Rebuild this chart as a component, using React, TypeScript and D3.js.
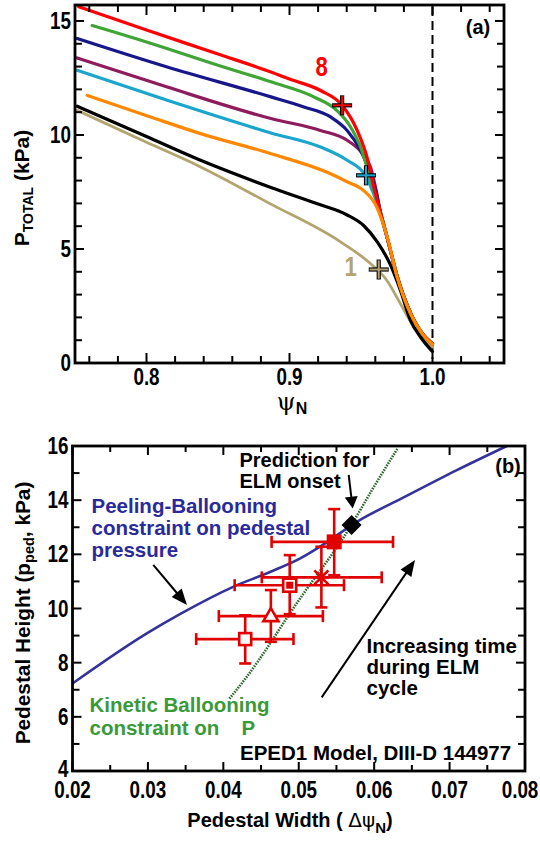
import React from 'react';
import * as d3 from 'd3';

const FONT = "'Liberation Sans', Arial, Helvetica, sans-serif";
const NARROW_SCALE = 0.82;

// ---------------- Panel (a) data ----------------
const psiMajor = [0.8, 0.9, 1.0];
const psiMajorLabels = ['0.8', '0.9', '1.0'];
const pMajor = [0, 5, 10, 15];
const pMajorLabels = ['0', '5', '10', '15'];

const curve1 = [[0.7515, 11.08], [0.80, 9.68], [0.8378, 8.6], [0.886, 7.0], [0.9357, 5.31], [0.9566, 4.36], [0.968, 3.63], [0.9776, 2.6], [0.987, 1.58], [0.9945, 1.0], [1.0, 0.7]];
const curve2 = [[0.7515, 11.26], [0.80, 9.93], [0.8378, 8.89], [0.887, 7.7], [0.92, 6.97], [0.94, 6.5], [0.952, 6.02], [0.9615, 5.3], [0.9706, 4.3], [0.9776, 3.18], [0.9846, 1.87], [0.9916, 1.14], [1.0, 0.5]];
const curve3 = [[0.7585, 11.74], [0.8028, 10.79], [0.8378, 10.06], [0.887, 9.18], [0.9287, 8.3], [0.9403, 7.95], [0.9517, 7.57], [0.961, 6.84], [0.9683, 5.53], [0.9753, 3.77], [0.9846, 2.17], [0.9928, 1.29], [1.0, 0.82]];
const curve4 = [[0.7515, 12.84], [0.8145, 11.52], [0.887, 10.09], [0.9217, 9.47], [0.9403, 8.89], [0.953, 8.23], [0.9588, 7.43], [0.9636, 6.6], [0.9683, 5.5], [0.9753, 3.8], [0.9846, 2.2], [0.9928, 1.3], [1.0, 0.85]];
const curve5 = [[0.7515, 13.38], [0.8145, 12.1], [0.887, 10.72], [0.9217, 10.2], [0.9403, 9.77], [0.9508, 9.2], [0.9566, 8.6], [0.9605, 7.6], [0.9636, 6.6], [0.9683, 5.5], [0.9753, 3.8], [0.9846, 2.2], [0.9928, 1.3], [1.0, 0.85]];
const curve6 = [[0.7515, 14.23], [0.8145, 12.98], [0.887, 11.67], [0.91, 11.23], [0.9287, 10.79], [0.9403, 10.2], [0.9497, 9.33], [0.9566, 8.32], [0.9605, 7.5], [0.9636, 6.6], [0.9683, 5.5], [0.9753, 3.8], [0.9846, 2.2], [0.9928, 1.3], [1.0, 0.85]];
const curve7 = [[0.762, 14.8], [0.80, 14.08], [0.85, 13.06], [0.887, 12.33], [0.917, 11.67], [0.933, 11.08], [0.9427, 10.35], [0.9497, 9.47], [0.9555, 8.3], [0.9598, 7.4], [0.9636, 6.6], [0.9683, 5.5], [0.9753, 3.8], [0.9846, 2.2], [0.9928, 1.3], [1.0, 0.85]];
const curve8 = [[0.7526, 15.62], [0.80, 14.6], [0.85, 13.55], [0.887, 12.76], [0.90, 12.45], [0.9217, 11.95], [0.9368, 11.3], [0.9473, 10.2], [0.9543, 9.0], [0.959, 7.7], [0.9636, 6.6], [0.9683, 5.5], [0.9753, 3.8], [0.9846, 2.2], [0.9928, 1.3], [1.0, 0.85]];

const curveOrder = [curve1, curve2, curve4, curve5, curve6, curve7, curve8, curve3];
const curveOrderColors = ['#b3a46f', '#000000', '#1aa6cc', '#8e1b5b', '#17168a', '#3fa535', '#ff0000', '#ff8800'];

const crossPsi = [0.9368, 0.9535, 0.9624];
const crossP = [11.3, 8.23, 4.1];
const crossColors = ['#ff0000', '#1aa6cc', '#b3a46f'];

const curveLabels = ['8', '1'];
const curveLabelPsi = [0.9225, 0.9427];
const curveLabelP = [13.0, 4.2];
const curveLabelColors = ['#ff0000', '#b3a46f'];

// ---------------- Panel (b) data ----------------
const wMajor = [0.02, 0.03, 0.04, 0.05, 0.06, 0.07, 0.08];
const wMajorLabels = ['0.02', '0.03', '0.04', '0.05', '0.06', '0.07', '0.08'];
const hMajor = [4, 6, 8, 10, 12, 14, 16];
const hMajorLabels = ['4', '6', '8', '10', '12', '14', '16'];

const pbW = [0.020, 0.0298, 0.0343, 0.0413, 0.0462, 0.0502, 0.0532, 0.0577, 0.0639, 0.0709, 0.0776];
const pbP = [7.23, 9.07, 9.8, 10.8, 11.35, 11.85, 12.35, 13.2, 14.1, 15.1, 16.0];

const kbW = [0.0408, 0.0429, 0.0500, 0.0568, 0.0597, 0.0631];
const kbP = [6.67, 7.4, 10.3, 13.0, 14.37, 15.91];

const predW = [0.0570];
const predP = [13.08];

const ptW = [0.0547, 0.0530, 0.0488, 0.0463, 0.0429];
const ptP = [12.46, 11.15, 10.86, 9.72, 8.87];
const ptWLo = [0.0464, 0.0451, 0.0415, 0.0394, 0.0364];
const ptWHi = [0.0625, 0.0610, 0.0560, 0.0532, 0.0493];
const ptPLo = [11.23, 10.04, 9.79, 8.77, 7.97];
const ptPHi = [13.67, 12.28, 11.97, 10.68, 9.75];
const ptSym = ['filledSquare', 'asterisk', 'dotSquare', 'triangle', 'openSquare'];

// arrows (data coordinates): from -> tip
const arrowFromW = [0.03071, 0.05662, 0.05304];
const arrowFromP = [11.61, 14.93, 6.72];
const arrowToW = [0.03518, 0.05715, 0.06541];
const arrowToP = [10.13, 13.69, 11.79];

const RED = '#e00000';

function Arrow({ x1, y1, x2, y2, len = 15, half = 6.5 }) {
  const ang = Math.atan2(y2 - y1, x2 - x1);
  const bx = x2 - len * Math.cos(ang);
  const by = y2 - len * Math.sin(ang);
  const px = -Math.sin(ang) * half;
  const py = Math.cos(ang) * half;
  return (
    <g>
      <line x1={x1} y1={y1} x2={bx + 2 * Math.cos(ang)} y2={by + 2 * Math.sin(ang)} stroke="#000" strokeWidth={2} />
      <path d={`M${x2},${y2} L${bx + px},${by + py} L${bx - px},${by - py} Z`} fill="#000" />
    </g>
  );
}

function NText({ x, y, anchor = 'middle', size = 23, fill = '#000', children }) {
  return (
    <text transform={`translate(${x},${y}) scale(${NARROW_SCALE},1)`} textAnchor={anchor} fontWeight="bold" fontSize={size} fill={fill}>{children}</text>
  );
}

export default function App() {
  const xA = d3.scaleLinear().domain([0.75, 1.05]).range([75, 504]);
  const yA = d3.scaleLinear().domain([0, 15.7]).range([363, 5]);
  const xB = d3.scaleLinear().domain([0.02, 0.08]).range([72.5, 525]);
  const yB = d3.scaleLinear().domain([4, 16]).range([771, 446]);

  const lineA = d3.line<number[]>().x(d => xA(d[0])).y(d => yA(d[1])).curve(d3.curveMonotoneX);
  const lineB = d3.line<number[]>().x(d => xB(d[0])).y(d => yB(d[1])).curve(d3.curveMonotoneX);

  const [ax0, ax1] = xA.range();
  const [ay0, ay1] = yA.range();
  const [bx0, bx1] = xB.range();
  const [by0, by1] = yB.range();

  const psiMinor = d3.range(0.76, 1.041, 0.02);
  const pMinor = d3.range(0, 15.5, 1);
  const wMinor = d3.range(0.02, 0.0801, 0.005);
  const hMinor = d3.range(4, 16.5, 1);

  const isMajor = (v, arr) => arr.some(a => Math.abs(a - v) < 1e-6);

  const pbData = pbW.map((w, i) => [w, pbP[i]]);
  const kbData = kbW.map((w, i) => [w, kbP[i]]);

  return (
    <svg width={540} height={844} style={{ position: 'absolute', left: 0, top: 0, background: '#fff' }} fontFamily={FONT}>
      <rect x={0} y={0} width={540} height={844} fill="#fff" />

      {/* ================= Panel (a) ================= */}
      <line x1={xA(1.0)} x2={xA(1.0)} y1={ay1 + 2} y2={ay0 - 4} stroke="#000" strokeWidth={2} strokeDasharray="9,5" />

      {curveOrder.map((c, i) => (
        <path key={'c' + i} d={lineA(c) || ''} fill="none" stroke={curveOrderColors[i]} strokeWidth={i === 0 ? 2.8 : 3.2} strokeLinejoin="round" strokeLinecap="round" />
      ))}

      {crossPsi.map((v, i) => {
        const cx = xA(v), cy = yA(crossP[i]);
        const s = 10;
        return (
          <g key={'x' + i}>
            <line x1={cx - s} x2={cx + s} y1={cy} y2={cy} stroke="#000" strokeWidth={4.2} />
            <line x1={cx} x2={cx} y1={cy - s} y2={cy + s} stroke="#000" strokeWidth={4.2} />
            <line x1={cx - s + 0.8} x2={cx + s - 0.8} y1={cy} y2={cy} stroke={crossColors[i]} strokeWidth={2} />
            <line x1={cx} x2={cx} y1={cy - s + 0.8} y2={cy + s - 0.8} stroke={crossColors[i]} strokeWidth={2} />
          </g>
        );
      })}

      {curveLabels.map((t, i) => (
        <NText key={'cl' + i} x={xA(curveLabelPsi[i])} y={yA(curveLabelP[i]) + 9} size={27} fill={curveLabelColors[i]}>{t}</NText>
      ))}

      <rect x={ax0} y={ay1} width={ax1 - ax0} height={ay0 - ay1} fill="none" stroke="#000" strokeWidth={2.8} />
      {psiMinor.map((v, i) => {
        const L = isMajor(v, psiMajor) ? 10 : 7;
        return (
          <g key={'pt' + i}>
            <line x1={xA(v)} x2={xA(v)} y1={ay0} y2={ay0 - L} stroke="#000" strokeWidth={2} />
            <line x1={xA(v)} x2={xA(v)} y1={ay1} y2={ay1 + L} stroke="#000" strokeWidth={2} />
          </g>
        );
      })}
      {pMinor.map((v, i) => {
        const L = isMajor(v, pMajor) ? 9 : 7;
        return (
          <g key={'yt' + i}>
            <line x1={ax0} x2={ax0 + L} y1={yA(v)} y2={yA(v)} stroke="#000" strokeWidth={2} />
            <line x1={ax1} x2={ax1 - L} y1={yA(v)} y2={yA(v)} stroke="#000" strokeWidth={2} />
          </g>
        );
      })}
      {psiMajor.map((v, i) => (
        <NText key={'pl' + i} x={xA(v)} y={385}>{psiMajorLabels[i]}</NText>
      ))}
      {pMajor.map((v, i) => (
        <NText key={'yl' + i} x={71} y={yA(v) + 8} anchor="end">{pMajorLabels[i]}</NText>
      ))}
      <text x={478} y={34} textAnchor="middle" fontWeight="bold" fontSize={20}>(a)</text>

      <text x={292} y={410} textAnchor="middle" fontSize={24} fontFamily="'DejaVu Serif', serif">ψ<tspan fontFamily={FONT} fontWeight="bold" fontSize={16} dy={4}>N</tspan></text>
      <text transform="translate(29,188) rotate(-90)" textAnchor="middle" fontWeight="bold" fontSize={21}>P<tspan fontSize={14} dy={4}>TOTAL</tspan><tspan dy={-4} fontSize={21}> (kPa)</tspan></text>

      {/* ================= Panel (b) ================= */}
      <path d={lineB(kbData) || ''} fill="none" stroke="#2f6a2f" strokeWidth={2.6} strokeDasharray="1.6,1.1" />
      <path d={lineB(pbData) || ''} fill="none" stroke="#33339a" strokeWidth={2.6} />

      {ptW.map((w, i) => {
        const cx = xB(w), cy = yB(ptP[i]);
        const xl = xB(ptWLo[i]), xr = xB(ptWHi[i]);
        const yt = yB(ptPHi[i]), yb = yB(ptPLo[i]);
        const c = 6;
        return (
          <g key={'eb' + i} stroke={RED} strokeWidth={2.6}>
            <line x1={xl} x2={xr} y1={cy} y2={cy} />
            <line x1={cx} x2={cx} y1={yt} y2={yb} />
            <line x1={xl} x2={xl} y1={cy - c} y2={cy + c} />
            <line x1={xr} x2={xr} y1={cy - c} y2={cy + c} />
            <line x1={cx - c} x2={cx + c} y1={yt} y2={yt} />
            <line x1={cx - c} x2={cx + c} y1={yb} y2={yb} />
          </g>
        );
      })}
      {ptW.map((w, i) => {
        const cx = xB(w), cy = yB(ptP[i]);
        const s = ptSym[i];
        if (s === 'filledSquare') return <rect key={'s' + i} x={cx - 7.5} y={cy - 7.5} width={15} height={15} fill={RED} />;
        if (s === 'openSquare') return <rect key={'s' + i} x={cx - 6} y={cy - 6} width={12} height={12} fill="#fff" stroke={RED} strokeWidth={2.6} />;
        if (s === 'dotSquare') return (
          <g key={'s' + i}>
            <rect x={cx - 6.5} y={cy - 6.5} width={13} height={13} fill="#fff" stroke={RED} strokeWidth={2.6} />
            <rect x={cx - 3.5} y={cy - 3.5} width={7} height={7} fill={RED} />
          </g>
        );
        if (s === 'triangle') return <path key={'s' + i} d={`M${cx},${cy - 8} L${cx + 7.5},${cy + 5} L${cx - 7.5},${cy + 5} Z`} fill="#fff" stroke={RED} strokeWidth={2.6} strokeLinejoin="miter" />;
        const a = 7;
        return (
          <g key={'s' + i} stroke={RED} strokeWidth={2.6}>
            <line x1={cx - a} x2={cx + a} y1={cy - a} y2={cy + a} />
            <line x1={cx - a} x2={cx + a} y1={cy + a} y2={cy - a} />
            <line x1={cx} x2={cx} y1={cy - a - 1} y2={cy + a + 1} />
            <line x1={cx - a - 1} x2={cx + a + 1} y1={cy} y2={cy} />
          </g>
        );
      })}

      {predW.map((w, i) => {
        const cx = xB(w), cy = yB(predP[i]);
        const r = 10;
        return <path key={'d' + i} d={`M${cx},${cy - r} L${cx + r},${cy} L${cx},${cy + r} L${cx - r},${cy} Z`} fill="#000" />;
      })}

      {arrowFromW.map((w, i) => (
        <Arrow key={'a' + i} x1={xB(w)} y1={yB(arrowFromP[i])} x2={xB(arrowToW[i])} y2={yB(arrowToP[i])} len={i === 1 ? 12 : 16} half={6.5} />
      ))}

      <rect x={bx0} y={by1} width={bx1 - bx0} height={by0 - by1} fill="none" stroke="#000" strokeWidth={2.8} />
      {wMinor.map((v, i) => {
        const L = isMajor(v, wMajor) ? 9 : 6;
        return (
          <g key={'wt' + i}>
            <line x1={xB(v)} x2={xB(v)} y1={by0} y2={by0 - L} stroke="#000" strokeWidth={2} />
            <line x1={xB(v)} x2={xB(v)} y1={by1} y2={by1 + L} stroke="#000" strokeWidth={2} />
          </g>
        );
      })}
      {hMinor.map((v, i) => {
        const L = isMajor(v, hMajor) ? 9 : 7;
        return (
          <g key={'ht' + i}>
            <line x1={bx0} x2={bx0 + L} y1={yB(v)} y2={yB(v)} stroke="#000" strokeWidth={2} />
            <line x1={bx1} x2={bx1 - L} y1={yB(v)} y2={yB(v)} stroke="#000" strokeWidth={2} />
          </g>
        );
      })}
      {wMajor.map((v, i) => (
        <NText key={'wl' + i} x={Math.min(xB(v), 520)} y={798}>{wMajorLabels[i]}</NText>
      ))}
      {hMajor.map((v, i) => (
        <NText key={'hl' + i} x={68.5} y={yB(v) + (i === 0 ? 6 : 8)} anchor="end">{hMajorLabels[i]}</NText>
      ))}

      <text x={508} y={473} textAnchor="middle" fontWeight="bold" fontSize={20}>(b)</text>
      <text fontWeight="bold" fontSize={20}>
        <tspan x={239.5} y={467}>Prediction for</tspan>
        <tspan x={239.5} y={488}>ELM onset</tspan>
      </text>
      <text fontWeight="bold" fontSize={20.5} fill="#2a2a9a">
        <tspan x={91.5} y={513}>Peeling-Ballooning</tspan>
        <tspan x={91.5} y={535}>constraint on pedestal</tspan>
        <tspan x={91.5} y={557}>pressure</tspan>
      </text>
      <text fontWeight="bold" fontSize={20.5} fill="#3a9a3a">
        <tspan x={89.5} y={712}>Kinetic Ballooning</tspan>
        <tspan x={89.5} y={735}>constraint on</tspan>
      </text>
      <text x={241.5} y={735} fontWeight="bold" fontSize={20.5} fill="#3a9a3a">P</text>
      <text x={240} y={760} fontWeight="bold" fontSize={20.5}>EPED1 Model, DIII-D 144977</text>
      <text fontWeight="bold" fontSize={20.5}>
        <tspan x={366.5} y={653}>Increasing time</tspan>
        <tspan x={366.5} y={674}>during ELM</tspan>
        <tspan x={366.5} y={695}>cycle</tspan>
      </text>

      <text x={290} y={827} textAnchor="middle" fontWeight="bold" fontSize={20}>Pedestal Width ( <tspan fontWeight="normal" fontFamily="'DejaVu Sans', sans-serif">Δψ</tspan><tspan fontSize={15} dy={6}>N</tspan><tspan dy={-6}>)</tspan></text>
      <text transform="translate(30,613) rotate(-90)" textAnchor="middle" fontWeight="bold" fontSize={20.8}>Pedestal Height (p<tspan fontSize={14.5} dy={4}>ped</tspan><tspan dy={-4}>, kPa)</tspan></text>
    </svg>
  );
}
